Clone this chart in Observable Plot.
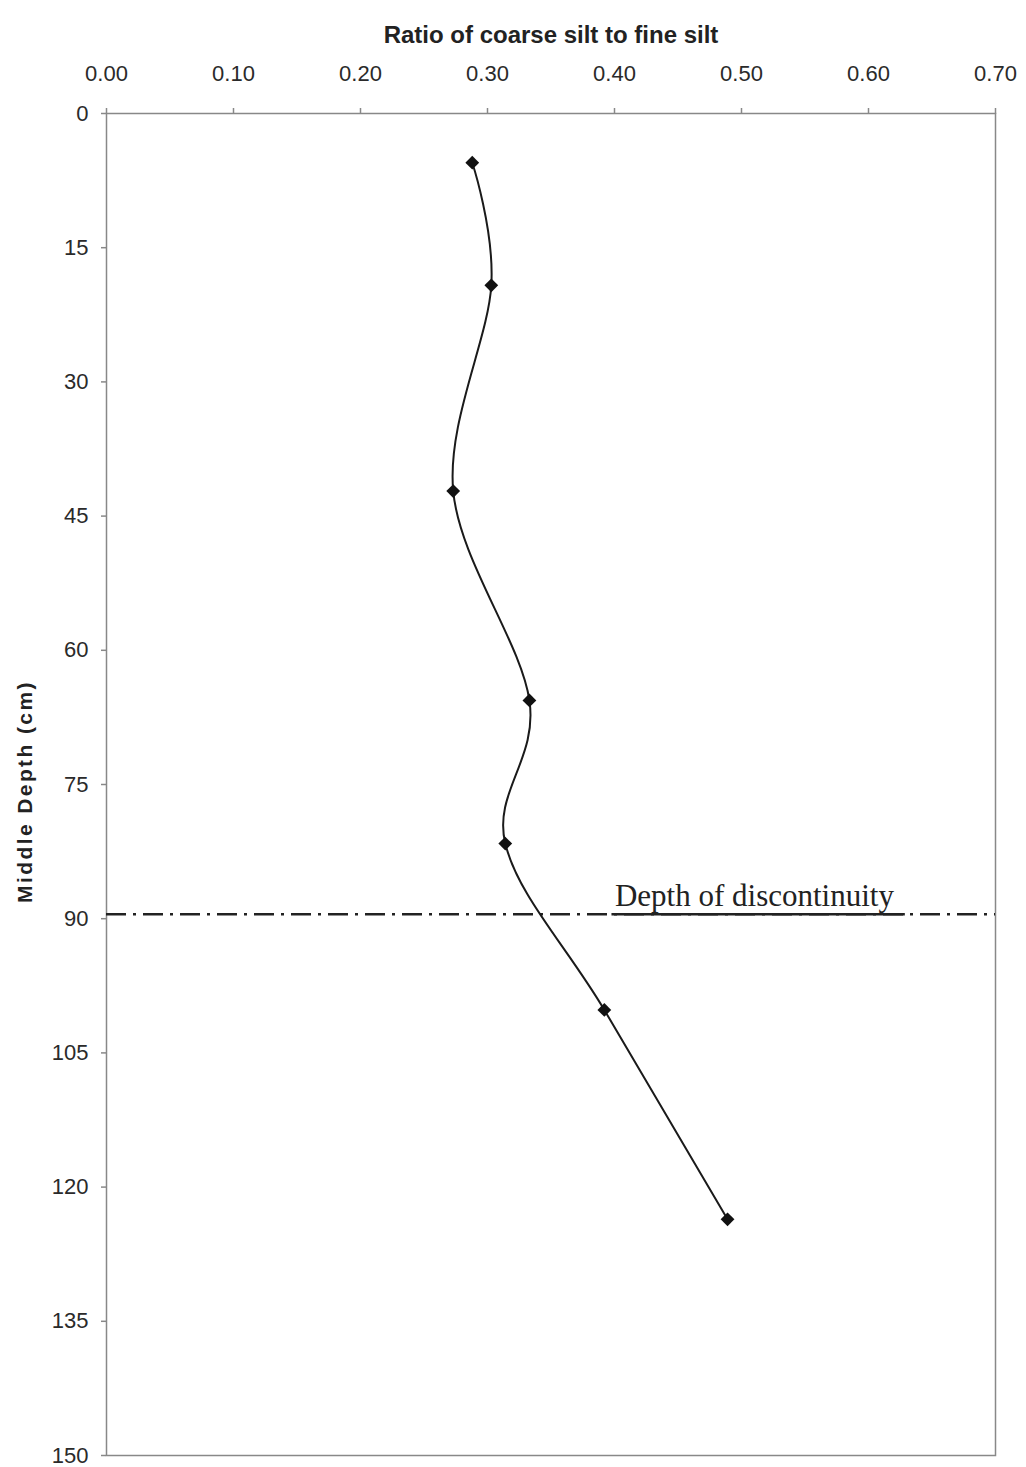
<!DOCTYPE html>
<html>
<head>
<meta charset="utf-8">
<script src="https://cdn.jsdelivr.net/npm/d3@7"></script>
<script src="https://cdn.jsdelivr.net/npm/@observablehq/plot@0.6"></script>
<style>
  html, body { margin: 0; padding: 0; background: #fff; }
  svg { display: block; }
</style>
</head>
<body>
<div id="chart"></div>
<script>
// Ratio of coarse to fine silt against the middle depth of each sampled layer
const depths = [5.5, 19.2, 42.2, 65.6, 81.6, 100.2, 123.6];
const ratios = [0.288, 0.303, 0.273, 0.333, 0.314, 0.392, 0.489];

const xTicks = [0, 0.1, 0.2, 0.3, 0.4, 0.5, 0.6, 0.7];
const yTicks = [0, 15, 30, 45, 60, 75, 90, 105, 120, 135, 150];

const xTitle = "Ratio of coarse silt to fine silt";
const yTitle = "Middle Depth (cm)";

// Depth at which the lithologic discontinuity sits, with its annotation span
const discontinuity = [{depth: 89.5, label: "Depth of discontinuity", from: 0.398, to: 0.629}];

const profile = depths.map((d, i) => ({depth: d, ratio: ratios[i]}));

const chart = Plot.plot({
  width: 1026,
  height: 1467,
  marginTop: 113,
  marginLeft: 106,
  marginRight: 31,
  marginBottom: 12,
  style: {fontFamily: "'Liberation Sans', Arial, sans-serif", fontSize: "22px", color: "#333", background: "#fff"},
  x: {domain: [0, 0.7]},
  y: {domain: [0, 150], reverse: true},
  marks: [
    Plot.frame({stroke: "#888", strokeWidth: 1.5}),
    Plot.axisX(xTicks, {
      anchor: "top", tickFormat: d3.format(".2f"), tickSize: 6, tickPadding: 27,
      label: null, stroke: "#888", strokeWidth: 1.5, fill: "#2a2a2a", fontSize: 22
    }),
    Plot.axisY(yTicks, {
      anchor: "left", tickSize: 5, tickPadding: 13,
      label: null, stroke: "#888", strokeWidth: 1.5, fill: "#2a2a2a", fontSize: 22
    }),
    Plot.text([xTitle], {
      frameAnchor: "top", dy: -88, text: d => d,
      fontWeight: "bold", fontSize: 24, fill: "#222"
    }),
    Plot.text([yTitle], {
      frameAnchor: "left", textAnchor: "middle", dx: -81, dy: 7, rotate: -90, text: d => d,
      fontWeight: "bold", fontSize: 21, fill: "#222"
    }),
    Plot.ruleY(discontinuity, {
      y: "depth", stroke: "#222", strokeWidth: 2.5, strokeDasharray: "20,7,3,7"
    }),
    Plot.ruleY(discontinuity, {
      y: "depth", x1: "from", x2: "to", stroke: "#222", strokeWidth: 2.5
    }),
    Plot.text(discontinuity, {
      x: "from", y: "depth", text: "label", textAnchor: "start", lineAnchor: "bottom",
      dx: 3, dy: -8, fontFamily: "'Liberation Serif', 'Times New Roman', serif", fontSize: 31, fill: "#222"
    }),
    Plot.line(profile, {x: "ratio", y: "depth", curve: "cardinal", stroke: "#1a1a1a", strokeWidth: 2}),
    Plot.dot(profile, {x: "ratio", y: "depth", symbol: "square", r: 5.5, rotate: 45, fill: "#111", stroke: "none"})
  ]
});

// Spread the rotated depth title slightly, as in the printed figure
d3.select(chart).selectAll("text").filter(function() { return this.textContent === yTitle; })
  .style("letter-spacing", "2.4px");

document.getElementById("chart").appendChild(chart);
</script>
</body>
</html>
